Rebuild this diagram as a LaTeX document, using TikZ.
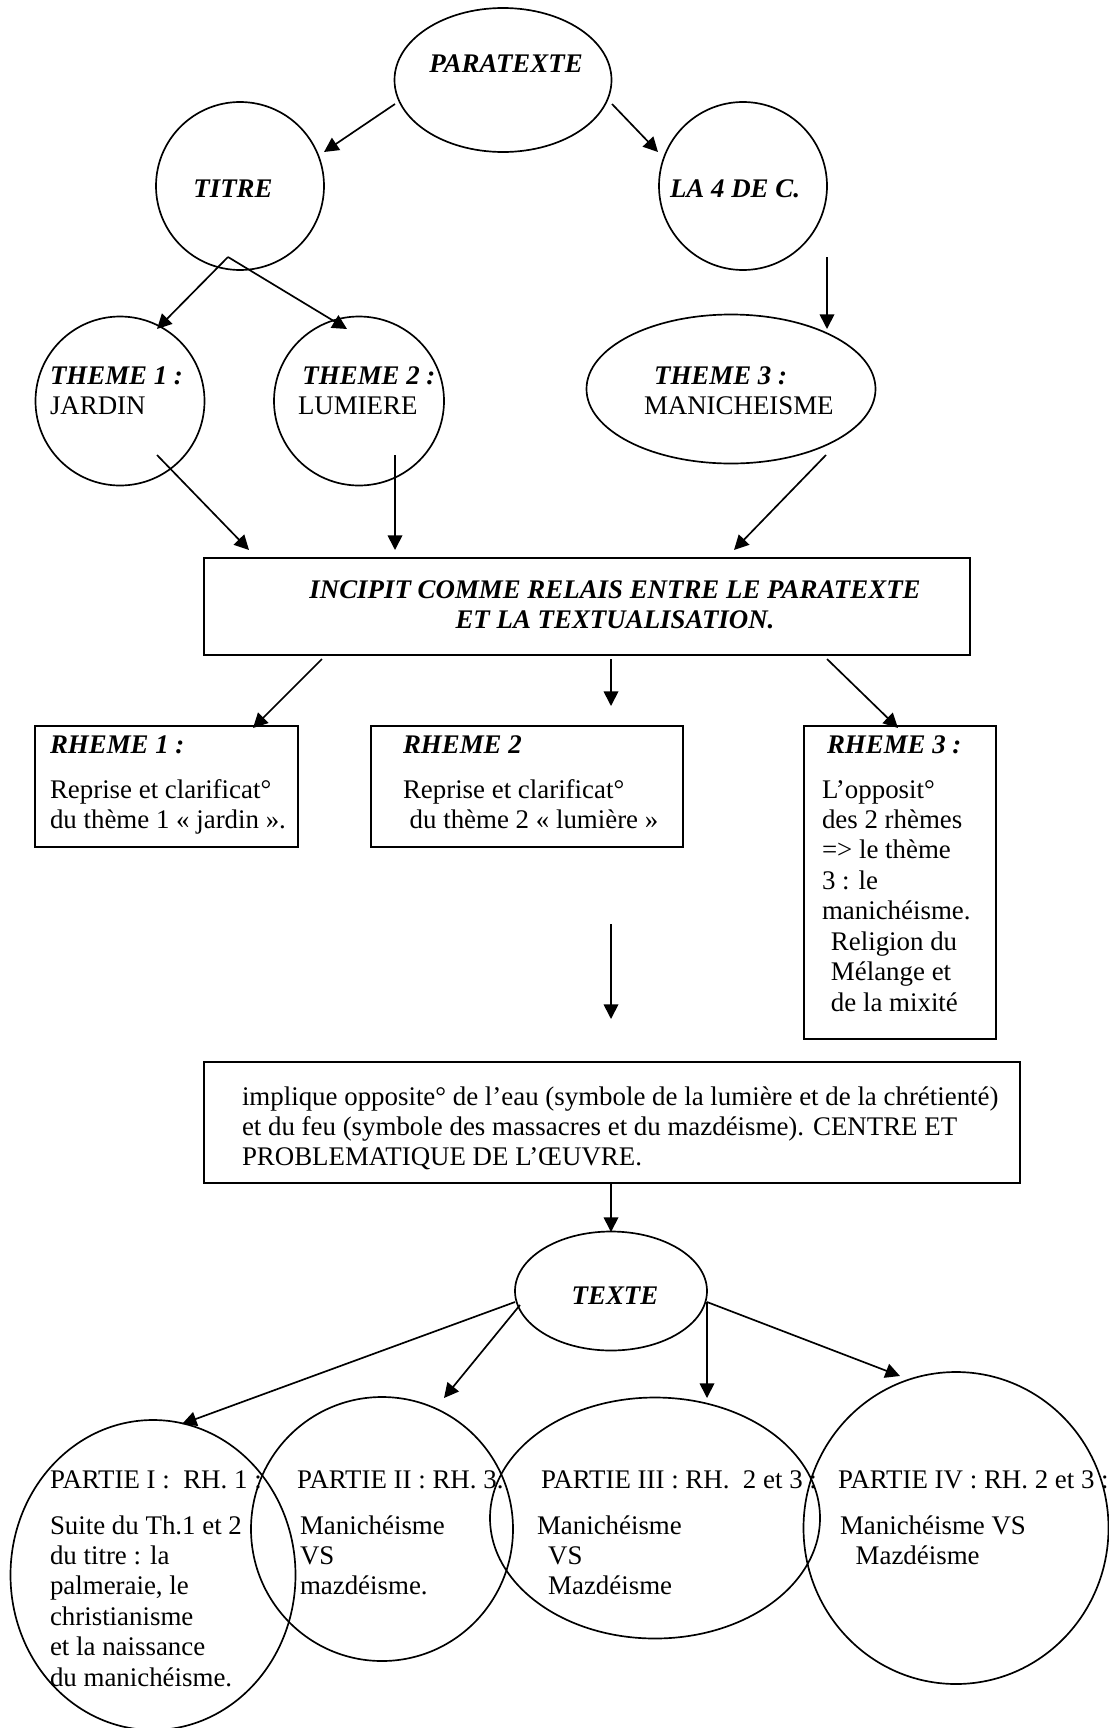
\documentclass[tikz,border=0pt]{standalone}
\usepackage{fontspec}
\setmainfont{Liberation Serif}
\usetikzlibrary{shapes.geometric,arrows.meta,calc}
\newcommand\ml[1]{\begin{tabular}[t]{@{}l@{}}#1\end{tabular}}
\newcommand\mc[1]{\begin{tabular}[t]{@{}c@{}}#1\end{tabular}}
\newcommand\bfi[1]{\textbf{\textit{#1}}}
\def\U{0.4464pt}
\tikzset{
 ell/.style 2 args={draw, ellipse, inner sep=0pt, outer sep=0pt, minimum width=#1*\U, minimum height=#2*\U},
 boxn/.style 2 args={draw, rectangle, inner sep=0pt, outer sep=0pt, minimum width=#1*\U, minimum height=#2*\U},
 txt/.style={inner sep=0pt, outer sep=0pt, anchor=base west, font=\fontsize{12}{13.6}\selectfont},
 bi/.style={txt, font=\fontsize{12}{13.6}\selectfont\bfseries\itshape},
 arr/.style={-{Triangle[length=6.5pt,width=6.5pt]}},
}
\begin{document}
\begin{tikzpicture}[x=\U, y=-\U, line width=0.75pt]
\useasboundingbox (0,0) rectangle (1109,1728);
% ellipses
\node[ell={217}{144}] (para) at (503,80) {};
\node[ell={168}{168}] (titre) at (240,186) {};
\node[ell={168}{168}] (la4) at (743,186) {};
\node[ell={169}{169}] (th1) at (120,401) {};
\node[ell={170}{169}] (th2) at (359,401) {};
\node[ell={289}{149}] (th3) at (731,389) {};
\node[ell={192}{119}] (texte) at (611,1291) {};
\node[ell={285}{310}] (p1) at (153,1575) {};
\node[ell={262}{264}] (p2) at (382,1529) {};
\node[ell={330}{241}] (p3) at (655,1518) {};
\node[ell={305}{312}] (p4) at (956,1528) {};
% boxes
\node[boxn={766}{97}] (incipit) at (587,606.5) {};
\node[boxn={263}{121}] (rh1) at (166.5,786.5) {};
\node[boxn={312}{121}] (rh2) at (527,786.5) {};
\node[boxn={192}{313}] (rh3) at (900,882.5) {};
\node[boxn={816}{121}] (impl) at (612,1122.5) {};
% texts
\node[bi, anchor=center] (paratxt) at (506,64) {PARATEXTE};
\node[bi, anchor=center] (titretxt) at (233,189) {TITRE};
\node[bi, anchor=center] (la4txt) at (735,189) {LA 4 DE C.};
\node[txt] (th1txt) at (50,384) {\ml{\bfi{THEME 1 :}\\JARDIN}};
\node[txt] (th2txt) at (298,384) {\ml{\hspace*{2pt}\bfi{THEME 2 :}\\LUMIERE}};
\node[txt] (th3txt) at (644,384) {\ml{\hspace*{4.5pt}\bfi{THEME 3 :}\\MANICHEISME}};
\node[bi, anchor=base] (inctxt) at (615,598) {\mc{INCIPIT COMME RELAIS ENTRE LE PARATEXTE\\ET LA TEXTUALISATION.}};
\node[bi] (rh1h) at (50,753) {RHEME 1 :};
\node[txt] (rh1b) at (50,798) {\ml{Reprise et clarificat°\\du thème 1 « jardin ».}};
\node[bi] (rh2h) at (403,753) {RHEME 2};
\node[txt] (rh2b) at (403,798) {\ml{Reprise et clarificat°\\\hspace*{3pt}du thème 2 « lumière »}};
\node[bi] (rh3h) at (827,753) {RHEME 3 :};
\node[txt] (rh3b) at (822,798) {\ml{L’opposit°\\des 2 rhèmes\\=> le thème\\3 : le\\manichéisme.\\\hspace*{4pt}Religion du\\\hspace*{4pt}Mélange et\\\hspace*{4pt}de la mixité}};
\node[txt] (impltxt) at (242,1105) {\ml{implique opposite° de l’eau (symbole de la lumière et de la chrétienté)\\et du feu (symbole des massacres et du mazdéisme). CENTRE ET\\PROBLEMATIQUE DE L’ŒUVRE.}};
\node[bi, anchor=center] (textetxt) at (615,1296) {TEXTE};
\node[txt] (p1l) at (50,1488) {PARTIE I :\ \ RH. 1 :};
\node[txt] (p2l) at (297,1488) {PARTIE II : RH. 3.};
\node[txt] (p3l) at (541,1488) {PARTIE III : RH.\ \ 2 et 3 :};
\node[txt] (p4l) at (838,1488) {PARTIE IV : RH. 2 et 3 :};
\node[txt] (p1b) at (50,1534) {\ml{Suite du Th.1 et 2\\du titre : la\\palmeraie, le\\christianisme\\et la naissance\\du manichéisme.}};
\node[txt] (p2b) at (300,1534) {\ml{Manichéisme\\VS\\mazdéisme.}};
\node[txt] (p3b) at (537,1534) {\ml{Manichéisme\\\hspace*{5pt}VS\\\hspace*{5pt}Mazdéisme}};
\node[txt] (p4b) at (840,1534) {\ml{Manichéisme VS\\\hspace*{7pt}Mazdéisme}};
% connectors
\coordinate (tfork) at ($(titre)+(-12,71)$);
\coordinate (free) at (611,924);
\draw[arr] ($(para)+(-108,24)$) -- ($(titre)+(84,-34)$);
\draw[arr] ($(para)+(109,24)$) -- ($(la4)+(-85,-34)$);
\draw[arr] (tfork) -- ($(th1)+(37,-72)$);
\draw[arr] (tfork) -- ($(th2)+(-12,-72)$);
\draw[arr] ($(la4)+(84,71)$) -- ($(th3)+(96,-60)$);
\draw[arr] ($(th1)+(37,54)$) -- ($(incipit)+(-338,-56.5)$);
\draw[arr] ($(th2)+(36,54)$) -- ($(incipit)+(-192,-56.5)$);
\draw[arr] ($(th3)+(95,66)$) -- ($(incipit)+(147,-56.5)$);
\draw[arr] ($(incipit)+(-265,52.5)$) -- ($(rh1)+(86.5,-58.5)$);
\draw[arr] ($(incipit)+(24,52.5)$) -- ($(rh2)+(84,-80.5)$);
\draw[arr] ($(incipit)+(240,52.5)$) -- ($(rh3)+(-2,-154.5)$);
\draw[arr] (free) -- ($(impl)+(-1,-103.5)$);
\draw[arr] ($(impl)+(-1,60.5)$) -- ($(texte)+(0,-59)$);
\draw[arr] ($(texte)+(-96,11)$) -- ($(p1)+(29,-151)$);
\draw[arr] ($(texte)+(-91,14)$) -- ($(p2)+(62,-131)$);
\draw[arr] ($(texte)+(96,11)$) -- ($(p3)+(52,-120)$);
\draw[arr] ($(texte)+(96,11)$) -- ($(p4)+(-56,-152)$);
\end{tikzpicture}
\end{document}
